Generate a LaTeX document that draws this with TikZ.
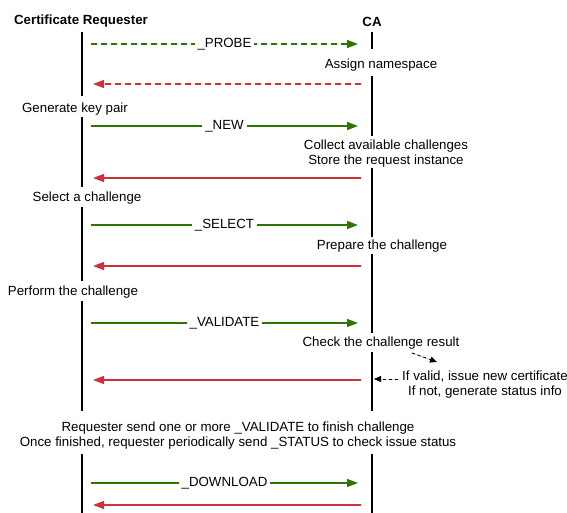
\documentclass[tikz,border=0pt]{standalone}
\usepackage{fontspec}
\setmainfont{Liberation Sans}
\usetikzlibrary{arrows.meta}
\definecolor{grn}{HTML}{2D7600}
\definecolor{rd}{HTML}{D0303A}
\begin{document}
\begin{tikzpicture}[x=1pt,y=-1pt,
  font=\fontsize{13.3}{15.5}\selectfont,
  life/.style={line width=2pt},
  txt/.style={inner sep=1pt, align=center},
  lbl/.style={fill=white, inner sep=3pt, text=black},
  reqarr/.style={draw=grn, line width=1.5pt, -{Triangle[length=11pt,width=8pt]}, fill=grn},
  resarr/.style={draw=rd, line width=1.5pt, -{Triangle[length=11pt,width=8pt]}, fill=rd},
  dsh/.style={dash pattern=on 6pt off 4pt},
  note/.style={black, line width=0.9pt, dash pattern=on 3pt off 3pt, -{Triangle[length=7pt,width=6pt]}}]
\useasboundingbox (0,0) rectangle (567,513);
% titles
\node[font=\fontsize{13.3}{15.5}\selectfont\bfseries] (tR) at (81,21.5) {Certificate Requester};
\node[font=\fontsize{13.3}{15.5}\selectfont\bfseries] (tCA) at (372,21.5) {CA};
% lifeline coordinates
\coordinate (L1a) at (82,32);  \coordinate (L1b) at (82,96);
\coordinate (L2a) at (82,117); \coordinate (L2b) at (82,187);
\coordinate (L3a) at (82,207); \coordinate (L3b) at (82,281);
\coordinate (L4a) at (82,301); \coordinate (L4b) at (82,411);
\coordinate (L5a) at (82,454); \coordinate (L5b) at (82,513);
\coordinate (R1a) at (372,32);  \coordinate (R1b) at (372,49);
\coordinate (R2a) at (372,76);  \coordinate (R2b) at (372,136);
\coordinate (R3a) at (372,168); \coordinate (R3b) at (372,237);
\coordinate (R4a) at (372,254); \coordinate (R4b) at (372,333);
\coordinate (R5a) at (372,352); \coordinate (R5b) at (372,411);
\coordinate (R6a) at (372,454); \coordinate (R6b) at (372,513);
\foreach \s in {L1,L2,L3,L4,L5,R1,R2,R3,R4,R5,R6}
  \draw[life] (\s a) -- (\s b);
% texts
\node[txt] (tAssign) at (381,65.5) {Assign namespace};
\node[txt] (tGen) at (75,109.5) {Generate key pair};
\node[txt] (tCollect) at (386,153.5) {Collect available challenges\\Store the request instance};
\node[txt] (tSel) at (87,198.5) {Select a challenge};
\node[txt] (tPrep) at (382,246.5) {Prepare the challenge};
\node[txt] (tPerf) at (73,292.5) {Perform the challenge};
\node[txt] (tCheck) at (381,343.5) {Check the challenge result};
\node[txt] (tValid) at (485,384.5) {If valid, issue new certificate\\If not, generate status info};
\node[txt] (tReq) at (238,435.5) {Requester send one or more \_VALIDATE to finish challenge\\Once finished, requester periodically send \_STATUS to check issue status};
% message coordinates
\coordinate (m1s) at (91,44);  \coordinate (m1e) at (358,44);
\coordinate (m2s) at (361,84); \coordinate (m2e) at (93,84);
\coordinate (m3s) at (91,126); \coordinate (m3e) at (358,126);
\coordinate (m4s) at (361,178); \coordinate (m4e) at (93,178);
\coordinate (m5s) at (91,225); \coordinate (m5e) at (358,225);
\coordinate (m6s) at (361,266); \coordinate (m6e) at (93,266);
\coordinate (m7s) at (91,323); \coordinate (m7e) at (358,323);
\coordinate (m8s) at (361,380); \coordinate (m8e) at (93,380);
\coordinate (m9s) at (91,483); \coordinate (m9e) at (358,483);
\coordinate (m10s) at (361,505); \coordinate (m10e) at (93,505);
% messages
\draw[reqarr,dsh] (m1s) -- node[lbl] (lProbe) {\_PROBE} (m1e);
\draw[resarr,dsh] (m2s) -- (m2e);
\draw[reqarr] (m3s) -- node[lbl] (lNew) {\_NEW} (m3e);
\draw[resarr] (m4s) -- (m4e);
\draw[reqarr] (m5s) -- node[lbl] (lSel) {\_SELECT} (m5e);
\draw[resarr] (m6s) -- (m6e);
\draw[reqarr] (m7s) -- node[lbl] (lVal) {\_VALIDATE} (m7e);
\draw[resarr] (m8s) -- (m8e);
\draw[reqarr] (m9s) -- node[lbl] (lDl) {\_DOWNLOAD} (m9e);
\draw[resarr] (m10s) -- (m10e);
% notes
\coordinate (n1s) at (412,353); \coordinate (n1e) at (437,362);
\coordinate (n2s) at (398,379); \coordinate (n2e) at (374,379);
\draw[note, fill=black] (n1s) -- (n1e);
\draw[note, fill=black] (n2s) -- (n2e);
\end{tikzpicture}
\end{document}
